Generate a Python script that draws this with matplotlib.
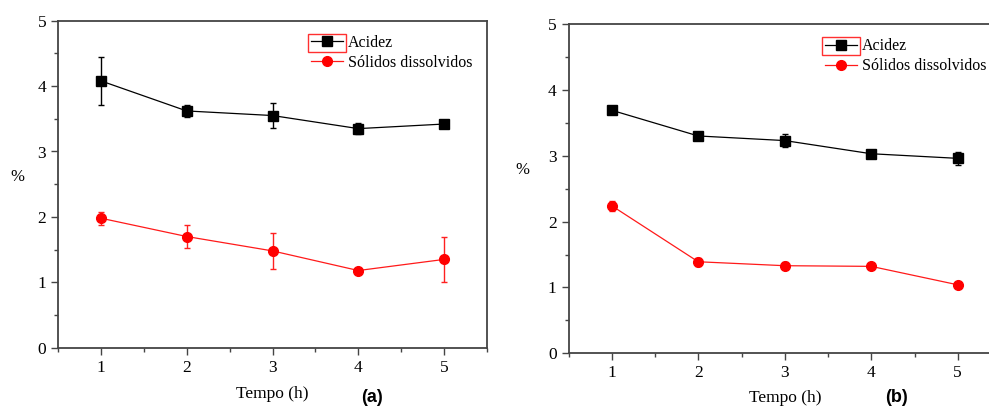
import matplotlib
matplotlib.use("Agg")
import matplotlib.pyplot as plt
from matplotlib.patches import Rectangle
from matplotlib.ticker import MultipleLocator

# time points (h)
tempo = [1, 2, 3, 4, 5]

# panel (a)
acidez_a = [4.08, 3.62, 3.55, 3.35, 3.42]
acidez_a_err = [0.37, 0.09, 0.19, 0.09, 0.03]
solidos_a = [1.98, 1.70, 1.48, 1.18, 1.35]
solidos_a_err = [0.10, 0.17, 0.27, 0.03, 0.34]

# panel (b)
acidez_b = [3.69, 3.30, 3.23, 3.03, 2.96]
acidez_b_err = [0.03, 0.03, 0.095, 0.03, 0.10]
solidos_b = [2.24, 1.39, 1.33, 1.32, 1.04]
solidos_b_err = [0.08, 0.06, 0.05, 0.03, 0.03]

serif = "Liberation Serif"
spine_c = "#444444"

fig = plt.figure(figsize=(9.89, 4.09), dpi=100)
ax_a = fig.add_axes([58/989, 61.3/409, 429/989, 327/409])
ax_b = fig.add_axes([568.5/989, 55.7/409, 432.5/989, 329.3/409])


def draw_panel(ax, acid, acid_err, sol, sol_err, tag, label_xy, tag_xy, pct_xy):
    c1 = ax.errorbar(tempo, acid, yerr=acid_err, color="black", lw=0.9,
                     marker="s", ms=6.5, mfc="black", mec="black",
                     ecolor="black", elinewidth=1.0, capsize=2.5, capthick=1.0,
                     zorder=3)
    c2 = ax.errorbar(tempo, sol, yerr=sol_err, color="#ff1a1a", lw=0.9,
                     marker="o", ms=7, mfc="#ff0000", mec="#ff0000",
                     ecolor="#ff2020", elinewidth=1.0, capsize=2.5, capthick=1.0,
                     zorder=3)
    ax.set_xlim(0.5, 5.5)
    ax.set_ylim(0, 5)
    ax.xaxis.set_major_locator(MultipleLocator(1))
    ax.xaxis.set_minor_locator(MultipleLocator(0.5))
    ax.yaxis.set_major_locator(MultipleLocator(1))
    ax.yaxis.set_minor_locator(MultipleLocator(0.5))
    ax.tick_params(which="both", direction="out", colors=spine_c,
                   labelcolor="black", top=False, right=False, width=1.0)
    ax.tick_params(which="major", length=5, labelsize=12.5)
    ax.tick_params(which="minor", length=3)
    for lab in ax.get_xticklabels() + ax.get_yticklabels():
        lab.set_fontfamily(serif)
    for sp in ax.spines.values():
        sp.set_color(spine_c)
        sp.set_linewidth(1.3)

    # legend uses only the data lines, without the error bars
    leg = ax.legend([c1[0], c2[0]], ["Acidez", "Sólidos dissolvidos"],
                    loc="upper right", bbox_to_anchor=(1.0, 1.0),
                    frameon=False, prop={"family": serif, "size": 11.5},
                    handlelength=2.0, handletextpad=0.3, labelspacing=0.25,
                    borderaxespad=0.5)

    fig.text(label_xy[0], label_xy[1], "Tempo (h)", family=serif, fontsize=12.5,
             ha="center", va="center")
    fig.text(pct_xy[0], pct_xy[1], "%", family=serif, fontsize=12,
             ha="center", va="center")
    fig.text(tag_xy[0], tag_xy[1], tag, family="Liberation Sans",
             fontweight="bold", fontsize=13, ha="center", va="center")
    return leg


leg_a = draw_panel(ax_a, acidez_a, acidez_a_err, solidos_a, solidos_a_err, "(a)",
                   (272/989, 1 - 394/409), (372/989, 1 - 398/409), (17/989, 1 - 177/409))
leg_b = draw_panel(ax_b, acidez_b, acidez_b_err, solidos_b, solidos_b_err, "(b)",
                   (785/989, 1 - 398/409), (897/989, 1 - 397/409), (522/989, 1 - 170/409))

# red selection frame around the first legend handle
fig.canvas.draw()
renderer = fig.canvas.get_renderer()
inv = fig.transFigure.inverted()
for leg in (leg_a, leg_b):
    h = leg.legend_handles[0].get_window_extent(renderer)
    t = leg.get_texts()[0].get_window_extent(renderer)
    (x0, y0), (x1, y1) = inv.transform([(h.x0 + 1, t.y0 - 1), (t.x0 - 2, t.y1 + 1)])
    fig.add_artist(Rectangle((x0, y0), x1 - x0, y1 - y0, transform=fig.transFigure,
                             fill=False, ec="#ff3030", lw=1.0))

fig.savefig("out.png", dpi=100)
